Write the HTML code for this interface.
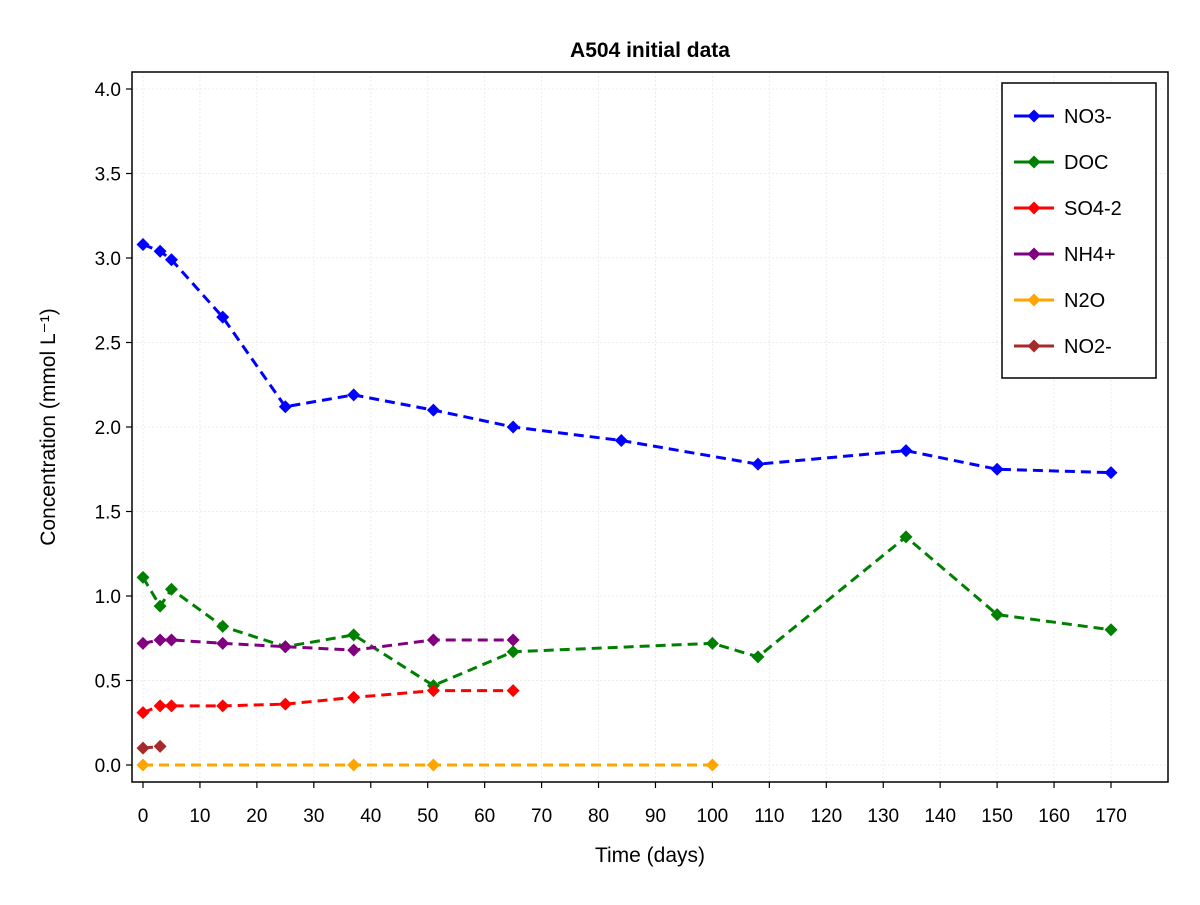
<!DOCTYPE html>
<html><head><meta charset="utf-8"><style>
body{margin:0;background:#fff;font-family:"Liberation Sans",sans-serif}
svg text{font-family:"Liberation Sans","DejaVu Sans",sans-serif}
</style></head><body>
<svg id="chart" width="1200" height="900" xmlns="http://www.w3.org/2000/svg">
<text x="650" y="57" text-anchor="middle" font-size="21" font-weight="bold">A504 initial data</text>
<g id="grid"></g>
<rect x="132" y="72" width="1036" height="710" fill="none" stroke="#000" stroke-width="1.5"/>
<g id="axes"></g>
<g id="series"></g>
<text x="650" y="862" text-anchor="middle" font-size="21">Time (days)</text>
<text transform="translate(55,427) rotate(-90)" text-anchor="middle" font-size="21">Concentration (mmol L⁻¹)</text>
<g id="legend"></g>
</svg>
<script>
const seriesNames=["NO3-","DOC","SO4-2","NH4+","N2O","NO2-"];
const seriesColors=["blue","green","red","purple","orange","brown"];
const no3X=[0,3,5,14,25,37,51,65,84,108,134,150,170];
const no3Y=[3.08,3.04,2.99,2.65,2.12,2.19,2.10,2.00,1.92,1.78,1.86,1.75,1.73];
const docX=[0,3,5,14,25,37,51,65,100,108,134,150,170];
const docY=[1.11,0.94,1.04,0.82,0.70,0.77,0.47,0.67,0.72,0.64,1.35,0.89,0.80];
const so4X=[0,3,5,14,25,37,51,65];
const so4Y=[0.31,0.35,0.35,0.35,0.36,0.40,0.44,0.44];
const nh4X=[0,3,5,14,25,37,51,65];
const nh4Y=[0.72,0.74,0.74,0.72,0.70,0.68,0.74,0.74];
const n2oX=[0,37,51,100];
const n2oY=[0,0,0,0];
const no2X=[0,3];
const no2Y=[0.10,0.11];
const xTicks=[0,10,20,30,40,50,60,70,80,90,100,110,120,130,140,150,160,170];
const yTicks=[0.0,0.5,1.0,1.5,2.0,2.5,3.0,3.5,4.0];
const NS="http://www.w3.org/2000/svg";
const sx=v=>143+v*(968/170);
const sy=v=>765-v*169;
function mk(tag,attrs,parent){const e=document.createElementNS(NS,tag);for(const k in attrs)e.setAttribute(k,attrs[k]);parent.appendChild(e);return e;}
const grid=document.getElementById('grid'),axes=document.getElementById('axes');
xTicks.forEach(t=>{
 const g=mk('line',{x1:sx(t),x2:sx(t),y1:72,y2:782,stroke:'#ececec','stroke-dasharray':'2,2'},grid);
 
 
 const tk=mk('line',{x1:sx(t),x2:sx(t),y1:782,y2:788,stroke:'#000','stroke-width':1.2},axes);
 
 
 const tx=mk('text',{x:sx(t),y:822,'text-anchor':'middle','font-size':19},axes);tx.textContent=t;
 
 
});
yTicks.forEach(t=>{
 const g=mk('line',{x1:132,x2:1168,y1:sy(t),y2:sy(t),stroke:'#ececec','stroke-dasharray':'2,2'},grid);
 
 
 const tk=mk('line',{x1:126,x2:132,y1:sy(t),y2:sy(t),stroke:'#000','stroke-width':1.2},axes);
 
 
 const tx=mk('text',{x:121,y:sy(t)+7,'text-anchor':'end','font-size':19},axes);tx.textContent=t.toFixed(1);
 
 
});
const allX=[no3X,docX,so4X,nh4X,n2oX,no2X],allY=[no3Y,docY,so4Y,nh4Y,n2oY,no2Y];
const sg=document.getElementById('series');
function diamond(cx,cy,c,p){return mk('path',{d:`M${cx},${cy-6.5}L${cx+6.5},${cy}L${cx},${cy+6.5}L${cx-6.5},${cy}Z`,fill:c},p);}
allX.forEach((xs,i)=>{
 const g=mk('g',{},sg);
 
 
 const pts=xs.map((x,j)=>sx(x)+','+sy(allY[i][j])).join(' ');
 const l=mk('polyline',{points:pts,fill:'none',stroke:seriesColors[i],'stroke-width':3,'stroke-dasharray':'10,6'},g);
 
 
 xs.forEach((x,j)=>{const m=diamond(sx(x),sy(allY[i][j]),seriesColors[i],g);
  
  });
});
const lg=document.getElementById('legend');
const box=mk('rect',{x:1002,y:83,width:154,height:295,fill:'#fff',stroke:'#000','stroke-width':1.5},lg);


seriesNames.forEach((n,i)=>{
 const y=116+i*46;
 const g=mk('g',{},lg);
 
 
 mk('line',{x1:1014,x2:1054,y1:y,y2:y,stroke:seriesColors[i],'stroke-width':3},g);
 diamond(1034,y,seriesColors[i],g);
 const t=mk('text',{x:1064,y:y+7,'font-size':20},g);t.textContent=n;
});
</script>
</body></html>
